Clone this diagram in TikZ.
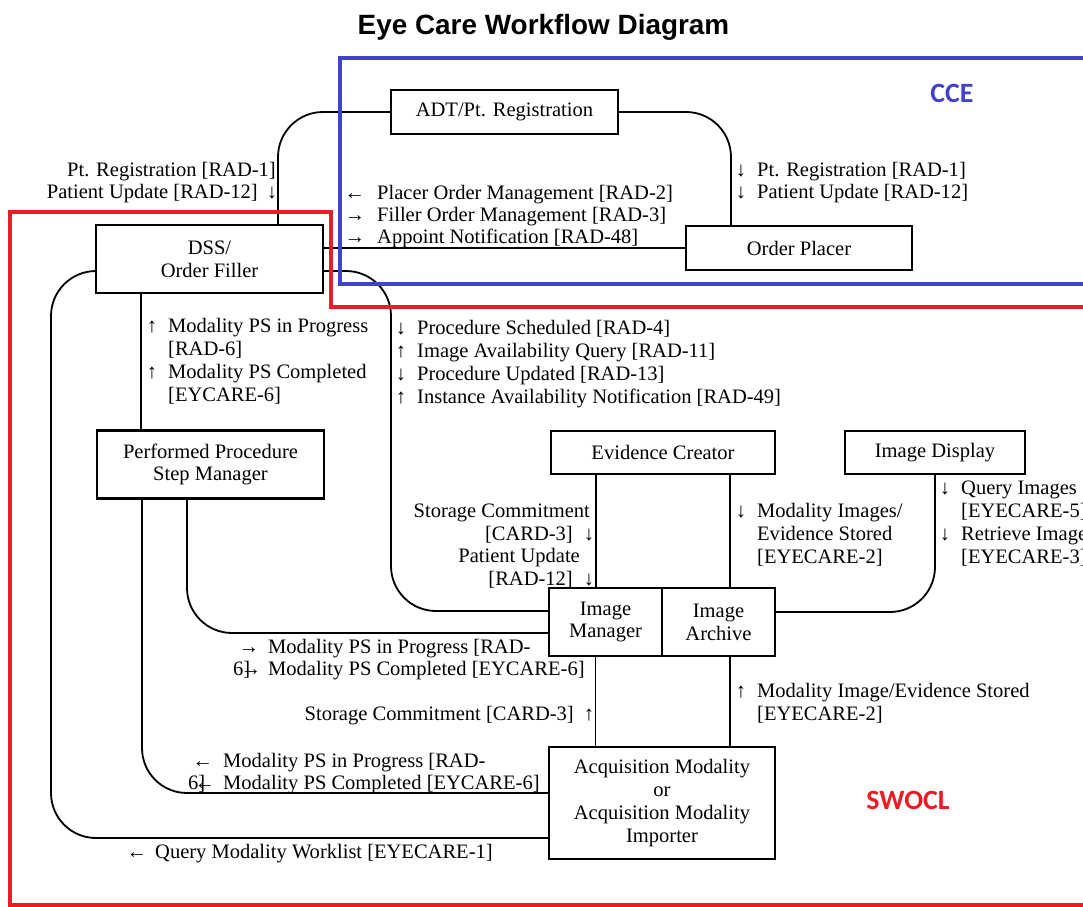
\documentclass[tikz,border=0pt]{standalone}
\usepackage{fontspec}
\setmainfont{Liberation Serif}
\newfontfamily\titlefont{Liberation Sans}
\newfontfamily\calfont{Carlito}
\definecolor{cceblue}{RGB}{66,66,204}
\definecolor{swored}{RGB}{237,28,36}
\begin{document}
\begin{tikzpicture}[x=1bp,y=-1bp,
  box/.style={draw, line width=2.2bp, fill=white, align=center,
    font=\fontsize{20.6}{23}\selectfont, inner sep=0pt},
  lbl/.style={inner sep=0pt, font=\fontsize{20.6}{23}\selectfont},
  conn/.style={line width=1.8bp, rounded corners=45bp},
  frame/.style={line width=4bp}]
\useasboundingbox (0,0) rectangle (1083,907);
\clip (0,0) rectangle (1083,907);

% title and region labels
\node[font=\titlefont\bfseries\fontsize{28}{32}\selectfont, anchor=base, inner sep=0pt] (title) at (543.5,34) {Eye Care Workflow Diagram};
\node[font=\calfont\bfseries\fontsize{28}{32}\selectfont, text=cceblue, anchor=base, inner sep=0pt] (cce) at (952,102) {CCE};
\node[font=\calfont\bfseries\fontsize{28}{32}\selectfont, text=swored, anchor=base, inner sep=0pt] (swocl) at (908,809) {SWOCL};

% helper coordinates
\coordinate (k1) at (391,450);
\coordinate (k2) at (51,500);

% labels (drawn before the boxes so the boxes cover their overflow)
\node[lbl, anchor=base east] (a1) at (276,176) {Pt. Registration [RAD-1]};
\node[lbl, anchor=base east] (a2) at (258,198) {Patient Update [RAD-12]};
\node[lbl, anchor=base] (a2r) at (272,198) {↓};

\node[lbl, anchor=base] (b1r) at (355,199) {←};
\node[lbl, anchor=base] (b2r) at (355,221) {→};
\node[lbl, anchor=base] (b3r) at (355,243) {→};
\node[lbl, anchor=base west] (b1) at (377,199) {Placer Order Management [RAD-2]};
\node[lbl, anchor=base west] (b2) at (377,221) {Filler Order Management [RAD-3]};
\node[lbl, anchor=base west] (b3) at (377,243) {Appoint Notification [RAD-48]};

\node[lbl, anchor=base] (c1r) at (741,176) {↓};
\node[lbl, anchor=base] (c2r) at (741,198) {↓};
\node[lbl, anchor=base west] (c1) at (757,176) {Pt. Registration [RAD-1]};
\node[lbl, anchor=base west] (c2) at (757,198) {Patient Update [RAD-12]};

\node[lbl, anchor=base] (d1r) at (152,332) {↑};
\node[lbl, anchor=base] (d3r) at (152,378) {↑};
\node[lbl, anchor=base west] (d1) at (168,332) {Modality PS in Progress};
\node[lbl, anchor=base west] (d2) at (168,355) {[RAD-6]};
\node[lbl, anchor=base west] (d3) at (168,378) {Modality PS Completed};
\node[lbl, anchor=base west] (d4) at (168,401) {[EYCARE-6]};

\node[lbl, anchor=base] (e1r) at (401,334) {↓};
\node[lbl, anchor=base] (e2r) at (401,357) {↑};
\node[lbl, anchor=base] (e3r) at (401,380) {↓};
\node[lbl, anchor=base] (e4r) at (401,403) {↑};
\node[lbl, anchor=base west] (e1) at (417,334) {Procedure Scheduled [RAD-4]};
\node[lbl, anchor=base west] (e2) at (417,357) {Image Availability Query [RAD-11]};
\node[lbl, anchor=base west] (e3) at (417,380) {Procedure Updated [RAD-13]};
\node[lbl, anchor=base west] (e4) at (417,403) {Instance Availability Notification [RAD-49]};

\node[lbl, anchor=base east] (f1) at (590,517) {Storage Commitment};
\node[lbl, anchor=base east] (f2) at (573,540) {[CARD-3]};
\node[lbl, anchor=base] (f2r) at (589,540) {↓};
\node[lbl, anchor=base east] (f3) at (580,562) {Patient Update};
\node[lbl, anchor=base east] (f4) at (573,585) {[RAD-12]};
\node[lbl, anchor=base] (f4r) at (589,585) {↓};

\node[lbl, anchor=base] (g1r) at (741,517) {↓};
\node[lbl, anchor=base west] (g1) at (757,517) {Modality Images/};
\node[lbl, anchor=base west] (g2) at (757,540) {Evidence Stored};
\node[lbl, anchor=base west] (g3) at (757,563) {[EYECARE-2]};

\node[lbl, anchor=base] (h1r) at (945,494) {↓};
\node[lbl, anchor=base] (h3r) at (945,540) {↓};
\node[lbl, anchor=base west] (h1) at (961,494) {Query Images};
\node[lbl, anchor=base west] (h2) at (961,517) {[EYECARE-5]};
\node[lbl, anchor=base west] (h3) at (961,540) {Retrieve Images};
\node[lbl, anchor=base west] (h4) at (961,563) {[EYECARE-3]};

\node[lbl, anchor=base] (i1r) at (249,653) {→};
\node[lbl, anchor=base west] (i1) at (268,653) {Modality PS in Progress [RAD-};
\node[lbl, anchor=base west] (i2a) at (233,675) {6]};
\node[lbl, anchor=base] (i2r) at (251,675) {→};
\node[lbl, anchor=base west] (i2) at (268,675) {Modality PS Completed [EYCARE-6]};

\node[lbl, anchor=base east] (j1) at (574,720) {Storage Commitment [CARD-3]};
\node[lbl, anchor=base] (j1r) at (589,720) {↑};

\node[lbl, anchor=base] (k1r) at (741,697) {↑};
\node[lbl, anchor=base west] (kk1) at (757,697) {Modality Image/Evidence Stored};
\node[lbl, anchor=base west] (kk2) at (757,720) {[EYECARE-2]};

\node[lbl, anchor=base] (l1r) at (203,767) {←};
\node[lbl, anchor=base west] (l1) at (223,767) {Modality PS in Progress [RAD-};
\node[lbl, anchor=base west] (l2a) at (188,789) {6]};
\node[lbl, anchor=base] (l2r) at (205,789) {←};
\node[lbl, anchor=base west] (l2) at (223,789) {Modality PS Completed [EYCARE-6]};

\node[lbl, anchor=base] (m1r) at (137,858) {←};
\node[lbl, anchor=base west] (m1) at (155,858) {Query Modality Worklist [EYECARE-1]};

% boxes
\node[box, minimum width=227bp, minimum height=44bp] (adt) at (504.5,112) {ADT/Pt. Registration};
\node[box, minimum width=226bp, minimum height=44bp] (op) at (799,248) {Order Placer};
\node[box, minimum width=227bp, minimum height=68bp] (dss) at (209.5,259) {DSS/\\Order Filler};
\node[box, minimum width=227bp, minimum height=68bp] (pps) at (210.5,464.5) {Performed Procedure\\Step Manager};
\node[box, minimum width=224bp, minimum height=43bp] (ec) at (663,452.5) {Evidence Creator};
\node[box, minimum width=180bp, minimum height=43bp] (id) at (935,452.5) {Image Display};
\node[box, minimum width=113bp, minimum height=68bp] (im) at (605.5,622) {Image\\Manager};
\node[box, minimum width=113bp, minimum height=68bp] (ia) at (718.5,622) {Image\\Archive};
\node[box, minimum width=226bp, minimum height=112bp] (acq) at (662,803) {Acquisition Modality\\or\\Acquisition Modality\\Importer};

% connectors
\draw[conn] (adt.west) -| ([xshift=68.5bp]dss.north);
\draw[conn] (adt.east) -| ([xshift=-68bp]op.north);
\draw[conn] (op.west -| dss.east) -- (op.west);
\draw[conn] ([yshift=-12bp]dss.east) -| (k1) |- ([yshift=11bp]im.west);
\draw[conn] ([xshift=-68.5bp]dss.south) -- ([xshift=-68.5bp]dss.south |- pps.north);
\draw[conn] ([yshift=-12bp]dss.west) -| (k2) |- ([yshift=-35bp]acq.west);
\draw[conn] ([xshift=-23.5bp]pps.south) |- ([yshift=-11bp]im.west);
\draw[conn] ([xshift=-68.5bp]pps.south) |- ([yshift=10bp]acq.west);
\draw[conn] ([xshift=-67bp]ec.south) -- ([xshift=-67bp]ec.south |- im.north);
\draw[conn] ([xshift=67bp]ec.south) -- ([xshift=67bp]ec.south |- ia.north);
\draw[conn] (id.south) |- ([yshift=10bp]ia.east);
\draw[conn] ([xshift=-10bp]im.south) -- ([xshift=-10bp]im.south |- acq.north);
\draw[conn] ([xshift=11.5bp]ia.south) -- ([xshift=11.5bp]ia.south |- acq.north);

% region frames
\draw[frame, cceblue] (340,58) rectangle (1100,284);
\draw[frame, swored] (1100,307) -- (331,307) -- (331,212) -- (10,212) -- (10,905) -- (1100,905);
\end{tikzpicture}
\end{document}
